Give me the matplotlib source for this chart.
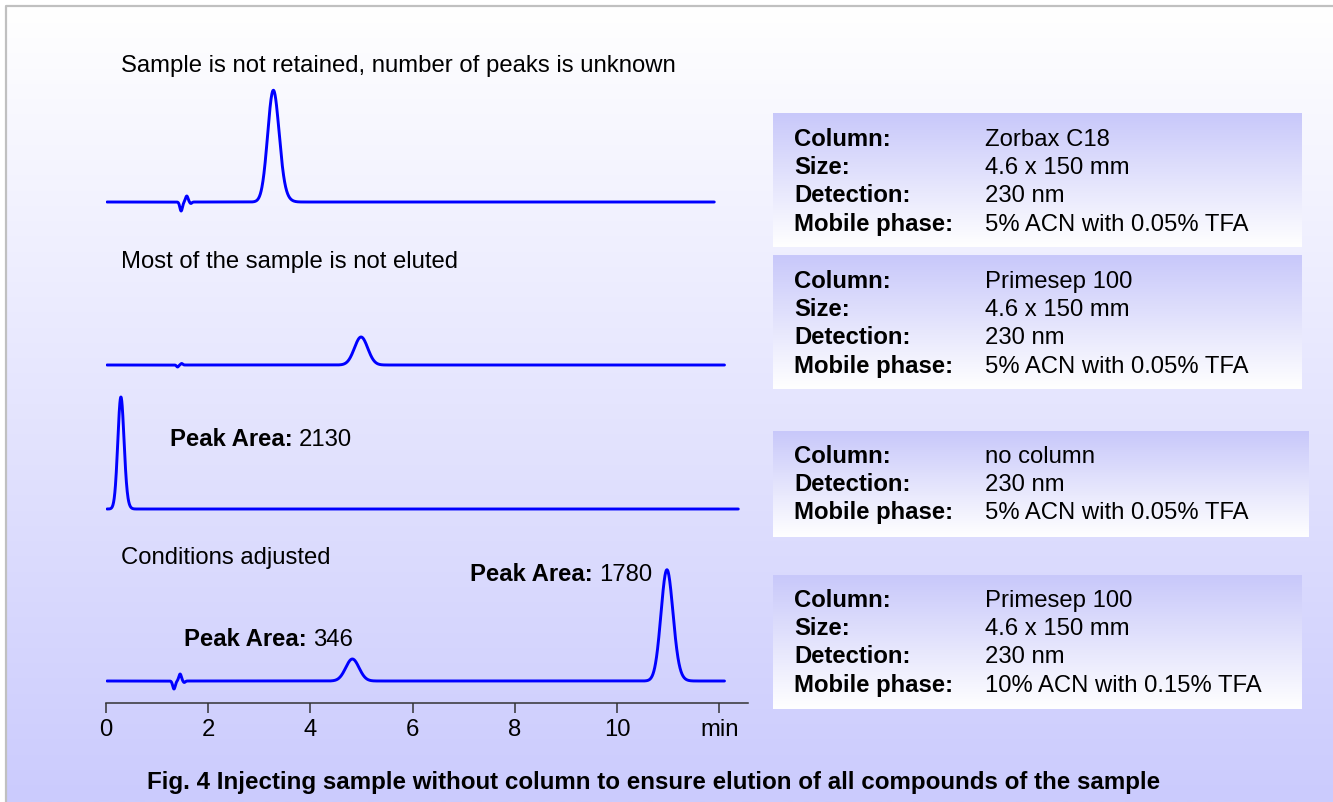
import numpy as np
import matplotlib
matplotlib.use('Agg')
import matplotlib.pyplot as plt

plt.rcParams['font.family'] = ['Liberation Sans', 'DejaVu Sans']

# --- данные хроматограмм: (время удерживания, высота, сигма) ---
TITLES = ["Sample is not retained, number of peaks is unknown",
          "Most of the sample is not eluted",
          "",
          "Conditions adjusted"]
RUN_END = [11.9, 12.1, 12.37, 12.1]          # мин
PEAKS_1 = [(1.47, -9, 0.025), (1.58, 6, 0.025), (1.66, -1.5, 0.02), (3.27, 108, 0.11), (3.42, 8, 0.12)]
PEAKS_2 = [(1.40, -2, 0.02), (1.48, 1.5, 0.02), (4.99, 28, 0.13)]
PEAKS_3 = [(0.29, 110, 0.06), (0.38, 6, 0.06)]
PEAKS_4 = [(1.33, -8, 0.025), (1.45, 7, 0.025), (1.53, -1.5, 0.02), (4.82, 22, 0.13),
           (10.97, 108, 0.115), (11.12, 7, 0.12)]
ALL_PEAKS = [PEAKS_1, PEAKS_2, PEAKS_3, PEAKS_4]

TICKS = [0, 2, 4, 6, 8, 10, 12]
TICK_LABELS = ["0", "2", "4", "6", "8", "10", "min"]

# аннотации площадей пиков
AREA_LABELS = ["2130", "346", "1780"]

# таблицы условий
COND_1 = [("Column:", "Zorbax C18"), ("Size:", "4.6 x 150 mm"),
          ("Detection:", "230 nm"), ("Mobile phase:", "5% ACN with 0.05% TFA")]
COND_2 = [("Column:", "Primesep 100"), ("Size:", "4.6 x 150 mm"),
          ("Detection:", "230 nm"), ("Mobile phase:", "5% ACN with 0.05% TFA")]
COND_3 = [("Column:", "no column"), ("Detection:", "230 nm"),
          ("Mobile phase:", "5% ACN with 0.05% TFA")]
COND_4 = [("Column:", "Primesep 100"), ("Size:", "4.6 x 150 mm"),
          ("Detection:", "230 nm"), ("Mobile phase:", "10% ACN with 0.15% TFA")]
CONDITIONS = [COND_1, COND_2, COND_3, COND_4]

CAPTION = "Fig. 4 Injecting sample without column to ensure elution of all compounds of the sample"

# --- раскладка (в пикселях, y — базовая линия текста) ---
W, H = 1333, 802
BASE_PX = [202, 365, 509, 681]        # базовые линии трасс
AXIS_PX = 703
TOP_PX = 60
BOXES = [(773, 113, 1302, 247), (773, 255, 1302, 389), (773, 431, 1309, 537), (773, 575, 1302, 709)]
BOX_FIRST_ROW = [146, 288, 463, 607]
TITLE_Y = [72, 268, 0, 564]
AREA_POS = [(293, 446), (307, 646), (593, 581)]
ROW_STEP = 28.2
FS = 17.2
BLUE = '#0000ff'

fig = plt.figure(figsize=(W / 100, H / 100), dpi=100)

# фон с градиентом
bg = fig.add_axes([0, 0, 1, 1])
bg.set_xlim(0, W)
bg.set_ylim(H, 0)
bg.axis('off')
grad = np.linspace(0, 1, 256)[:, None]
c_top = np.array([1.0, 1.0, 1.0])
c_bot = np.array([203, 203, 253]) / 255
img = c_top + (c_bot - c_top) * grad[..., None]
bg.imshow(img, extent=[6, W, H, 6], aspect='auto', zorder=0, interpolation='bilinear')
bg.plot([6, 6, W], [H, 6, 6], color='#c0c0c0', lw=1.6, zorder=1, solid_capstyle='butt')

# блоки с условиями
b_top = np.array([200, 200, 250]) / 255
b_bot = np.array([1.0, 1.0, 1.0])
bimg = b_top + (b_bot - b_top) * grad[..., None]
for (x0, y0, x1, y1), rows, ry in zip(BOXES, CONDITIONS, BOX_FIRST_ROW):
    bg.imshow(bimg, extent=[x0, x1, y1, y0], aspect='auto', zorder=2, interpolation='bilinear')
    for i, (lab, val) in enumerate(rows):
        y = ry + i * ROW_STEP
        bg.text(794, y, lab, fontsize=FS, fontweight='bold', va='baseline', ha='left', zorder=3)
        bg.text(985, y, val, fontsize=FS, va='baseline', ha='left', zorder=3)

# заголовки трасс
for t, ypx in zip(TITLES, TITLE_Y):
    if t:
        bg.text(121, ypx, t, fontsize=FS, va='baseline', ha='left', zorder=3)

# площади пиков: жирная часть + число
for (xr, ypx), num in zip(AREA_POS, AREA_LABELS):
    bg.text(xr, ypx, "Peak Area:", fontsize=FS, fontweight='bold', va='baseline', ha='right', zorder=3)
    bg.text(xr + 6, ypx, num, fontsize=FS, va='baseline', ha='left', zorder=3)

bg.text(654, 789, CAPTION, fontsize=17.4, fontweight='bold', va='baseline', ha='center', zorder=3)
bg.set_xlim(0, W)
bg.set_ylim(H, 0)

# --- ось хроматограмм ---
ax = fig.add_axes([106 / W, (H - AXIS_PX) / H, (748 - 106) / W, (AXIS_PX - TOP_PX) / H])
ax.patch.set_alpha(0)
ax.set_xlim(0, 12.56)
ax.set_ylim(0, AXIS_PX - TOP_PX)
for s in ['left', 'top', 'right']:
    ax.spines[s].set_visible(False)
ax.spines['bottom'].set_color('#333333')
ax.spines['bottom'].set_linewidth(1.1)
ax.set_yticks([])
ax.set_xticks(TICKS)
ax.set_xticklabels(TICK_LABELS, fontsize=FS)
ax.tick_params(axis='x', direction='out', length=7.5, width=1.1, color='#333333', pad=4)

for peaks, t_end, base in zip(ALL_PEAKS, RUN_END, BASE_PX):
    t = np.linspace(0.02, t_end, 3000)
    sig = np.zeros_like(t)
    for rt, h, s in peaks:
        sig += h * np.exp(-0.5 * ((t - rt) / s) ** 2)
    ax.plot(t, sig + (AXIS_PX - base), color=BLUE, lw=2.1, solid_capstyle='round')

fig.savefig('out.png', dpi=100)
